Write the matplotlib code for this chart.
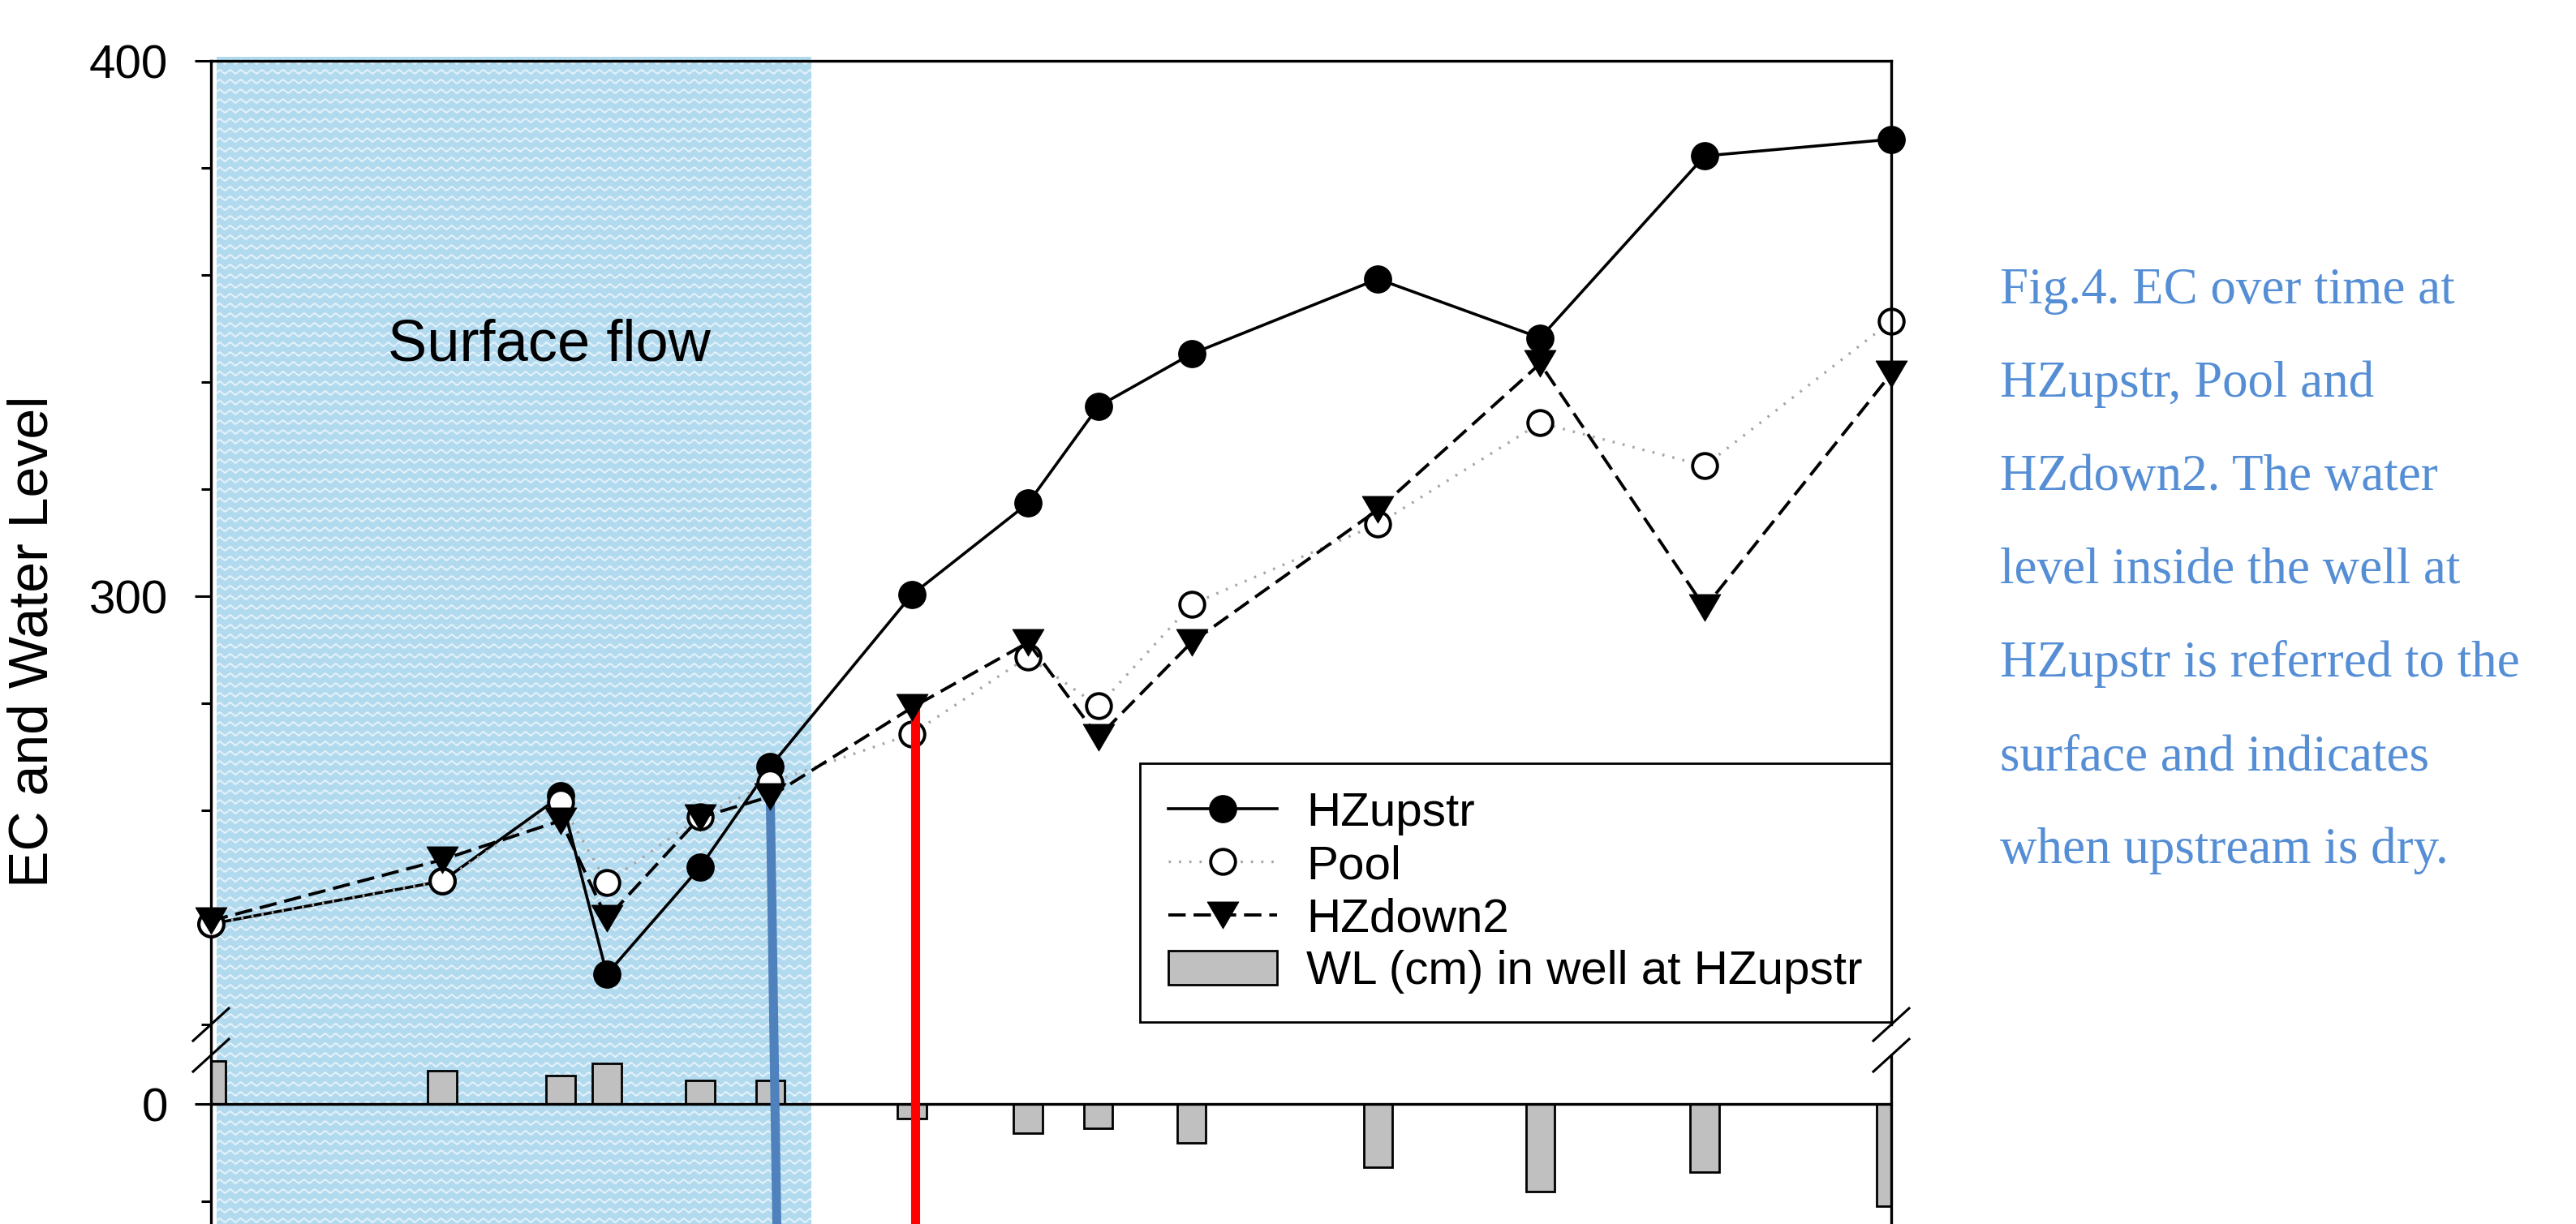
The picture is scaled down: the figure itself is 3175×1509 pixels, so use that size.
"""
EC over time at HZupstr, Pool and HZdown2 with the well water level below a broken y axis.
"""

import numpy as np
import matplotlib
matplotlib.use('Agg')
import matplotlib.pyplot as plt
from matplotlib.lines import Line2D

plt.rcParams['font.family'] = ['Liberation Sans', 'DejaVu Sans']

# sampling days (day 0 = first visit)
days = [0.0, 10.05, 15.2, 17.2, 21.25, 24.3, 30.45, 35.5, 38.55, 42.6, 50.7, 57.75, 64.9, 73.0]

# EC values
hz_upstr = [238.8, 246.8, 262.7, 229.4, 249.4, 268.2, 300.3, 317.4, 335.5, 345.3, 359.3, 348.3, 382.3, 385.4]
pool = [238.8, 246.8, 261.5, 246.5, 258.8, 265.2, 274.3, 288.7, 279.5, 298.5, 313.5, 332.4, 324.4, 351.4]
hz_down2 = [239.4, 250.8, 258.1, 239.8, 258.7, 262.6, 279.2, 291.4, 273.7, 291.4, 316.2, 343.5, 297.9, 341.6]

# water level in the well at HZupstr (cm)
well_level = [8.8, 6.8, 5.8, 8.3, 4.8, 4.8, -3.0, -6.0, -5.0, -8.0, -13.0, -18.0, -14.0, -21.0]

surface_flow_span = (0.25, 26.1)
blue_line_end_x = 24.6
red_line_x = 30.6

caption_lines = [
    'Fig.4. EC over time at',
    'HZupstr, Pool and',
    'HZdown2. The water',
    'level inside the well at',
    'HZupstr is referred to the',
    'surface and indicates',
    'when upstream is dry.',
]

# broken axis: lower part (well level) up to LOW_TOP, upper part (EC) from HIGH_BOTTOM
LOW_TOP = 10.0
HIGH_BOTTOM = 220.0
LOW_SCALE = 6.0
HIGH_SCALE = 6.6
GAP = 38.0
Y_MIN, Y_MAX = -29.83, 400.0


def to_virtual(y):
    y = np.asarray(y, dtype=float)
    v1 = LOW_TOP * LOW_SCALE
    lo = y * LOW_SCALE
    mid = v1 + (y - LOW_TOP) * GAP / (HIGH_BOTTOM - LOW_TOP)
    hi = v1 + GAP + (y - HIGH_BOTTOM) * HIGH_SCALE
    return np.where(y <= LOW_TOP, lo, np.where(y >= HIGH_BOTTOM, hi, mid))


def from_virtual(v):
    v = np.asarray(v, dtype=float)
    v1 = LOW_TOP * LOW_SCALE
    v2 = v1 + GAP
    lo = v / LOW_SCALE
    mid = LOW_TOP + (v - v1) * (HIGH_BOTTOM - LOW_TOP) / GAP
    hi = HIGH_BOTTOM + (v - v2) / HIGH_SCALE
    return np.where(v <= v1, lo, np.where(v >= v2, hi, mid))


W_PX, H_PX, DPI = 3175, 1509, 200
fig = plt.figure(figsize=(W_PX / DPI, H_PX / DPI), dpi=DPI)
ax = fig.add_axes([260 / W_PX, -31 / H_PX, 2071 / W_PX, (1540 - 75.4) / H_PX])
ax.set_facecolor('none')
ax.set_yscale('function', functions=(to_virtual, from_virtual))
ax.set_xlim(0, 73)
ax.set_ylim(Y_MIN, Y_MAX)

# bars and zero line
bars = ax.bar(days, well_level, width=1.25, color='#c0c0c0', edgecolor='black',
              linewidth=1.0, zorder=2, label='WL (cm) in well at HZupstr')
ax.axhline(0, color='black', lw=1.2, zorder=2.5)

tri = [(-1, 0.85), (1, 0.85), (0, -0.85), (-1, 0.85)]
l_up, = ax.plot(days, hz_upstr, '-', color='black', lw=1.3, marker='o', ms=12.0,
                mfc='black', mec='black', mew=0.5, clip_on=False, zorder=3, label='HZupstr')
l_pool, = ax.plot(days, pool, linestyle=(0, (0.8, 3.0)), color='#a6a6a6', lw=1.2,
                  marker='o', ms=11.0, mfc='white', mec='black', mew=1.4,
                  clip_on=False, zorder=4, label='Pool')
l_down, = ax.plot(days, hz_down2, linestyle=(0, (5.5, 2.5)), color='black', lw=1.4,
                  marker=tri, ms=14.0, mfc='black', mec='black', mew=0.3,
                  clip_on=False, zorder=5, label='HZdown2')

# dry / wet markers
ax.plot([days[5], blue_line_end_x], [hz_down2[5], Y_MIN], color='#4f81bd', lw=4.0,
        solid_capstyle='butt', zorder=4.5)
ax.plot([red_line_x, red_line_x], [hz_down2[6], Y_MIN], color='red', lw=4.0,
        solid_capstyle='butt', zorder=4.5)

ax.text(14.7, 346.8, 'Surface flow', ha='center', va='center', fontsize=26)

# axes look
ax.set_yticks([0, 300, 400])
ax.set_yticklabels(['0', '300', '400'])
ax.set_yticks([-20, 220, 240, 260, 280, 320, 340, 360, 380], minor=True)
ax.tick_params(axis='y', which='major', direction='out', length=7.2, width=1.1,
               pad=12, labelsize=21)
ax.tick_params(axis='y', which='minor', direction='out', length=4.4, width=1.1)
ax.set_xticks([])
ax.spines['left'].set_linewidth(1.2)
ax.spines['top'].set_linewidth(1.2)
ax.spines['right'].set_visible(False)
ax.spines['bottom'].set_visible(False)
yax = ax.get_yaxis_transform()
ax.plot([1, 1], [HIGH_BOTTOM, Y_MAX], transform=yax, color='black', lw=1.2, clip_on=False, zorder=6)
ax.plot([1, 1], [Y_MIN, LOW_TOP], transform=yax, color='black', lw=1.2, clip_on=False, zorder=6)

leg = ax.legend(handles=[l_up, l_pool, l_down, bars], loc='upper right',
                bbox_to_anchor=(1.0, 0.409), borderaxespad=0, fancybox=False,
                edgecolor='black', framealpha=1, fontsize=21, handlelength=2.3,
                handletextpad=0.63, labelspacing=0.19, borderpad=0.6,
                handleheight=0.72)
leg.get_frame().set_linewidth(1.0)
leg.set_zorder(7)

# break marks on both sides
to_fig = fig.transFigure.inverted()
for yv in (HIGH_BOTTOM, LOW_TOP):
    for xa in (0, 1):
        cx = ax.transAxes.transform((xa, 0))[0]
        cy = ax.transData.transform((0, yv))[1]
        p0 = to_fig.transform((cx - 22, cy - 20))
        p1 = to_fig.transform((cx + 22, cy + 20))
        fig.add_artist(Line2D([p0[0], p1[0]], [p0[1], p1[1]], color='black', lw=1.1))

# wavy light-blue texture for the surface flow period
x0 = ax.transData.transform((surface_flow_span[0], 0))[0]
x1 = ax.transData.transform((surface_flow_span[1], 0))[0]
top = ax.transData.transform((0, Y_MAX))[1] + 5
tex_h, tex_w = int(round(top)), int(round(x1 - x0))
rows = np.arange(tex_h)[:, None]
cols = np.arange(tex_w)[None, :]
phase = (rows + 2.0 * np.sin(2 * np.pi * cols / 13.0)) % 12.0
w = np.exp(-((phase - 6.0) ** 2) / (2 * 0.9 ** 2)) * 0.75
base = np.array([0.70, 0.855, 0.94])
tex = base * (1 - w[..., None]) + w[..., None]
fig.figimage(tex, xo=int(round(x0)), yo=0, zorder=-1, origin='upper')

fig.text(41 / W_PX, 1 - 791 / H_PX, 'EC and Water Level', rotation=90,
         ha='center', va='center', fontsize=24.5)

for i, line in enumerate(caption_lines):
    fig.text(2465 / W_PX, 1 - (374 + 115 * i) / H_PX, line, family='Liberation Serif',
             fontsize=22.7, color='#558ED5', ha='left', va='baseline')

fig.savefig('out.png', dpi=DPI)
